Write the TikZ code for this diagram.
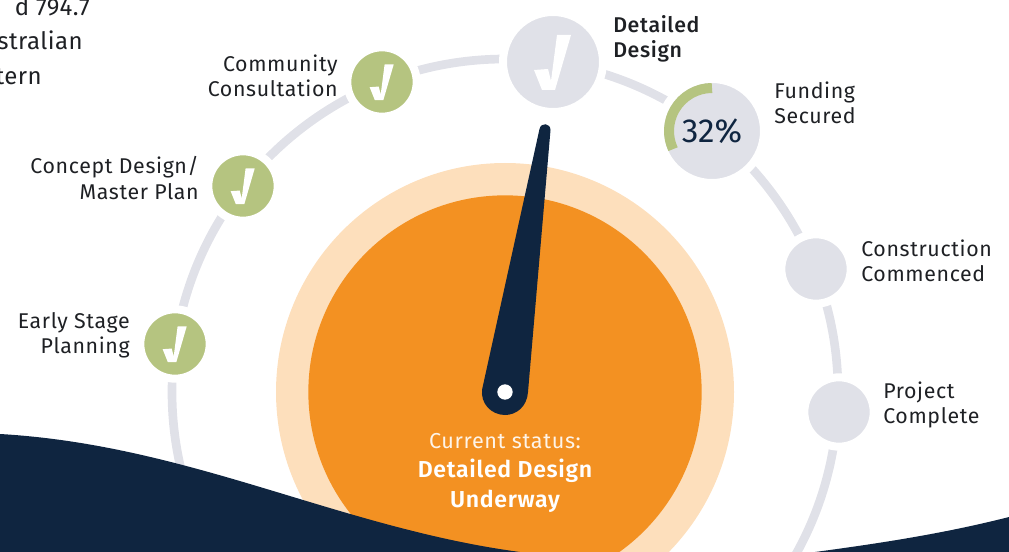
\documentclass[tikz,border=0pt]{standalone}
\usepackage{fontspec}
\setmainfont{Fira Sans}
\newfontfamily\labelfont{Fira Sans Medium}
\newfontfamily\strongfont{Fira Sans SemiBold}
\usepackage{xcolor}
\definecolor{navy}{HTML}{0F2540}
\definecolor{gaugeorange}{HTML}{F39122}
\definecolor{gaugepale}{HTML}{FDDFBC}
\definecolor{donegreen}{HTML}{B5C480}
\definecolor{ringgrey}{HTML}{E0E1E8}
\definecolor{labelgrey}{HTML}{1E2024}
\tikzset{
  stage/.style={circle,draw=white,line width=6,inner sep=0,minimum size=#1},
  stagelabel/.style={inner sep=0.75pt,text=labelgrey,font=\fontsize{16}{18.8}\selectfont\addfontfeature{LetterSpace=3}},
  introtext/.style={inner sep=0.75pt,text=labelgrey,font=\fontsize{18}{26}\selectfont\addfontfeature{LetterSpace=2}},
  pics/tick/.style={code={
    \fill [white,yscale=-1] (-19,8) -- (-5,7) -- (-2,19) -- (4,-27) -- (18,-27) -- (2,28) -- (-11,28) -- cycle;
  }}
}
\begin{document}
\begin{tikzpicture}[x=0.75pt,y=0.75pt,yscale=-1,xscale=1]
\useasboundingbox (0,0) rectangle (1009,552);
\clip (0,0) rectangle (1009,552);
% Intro text
\draw (91,15.5) node (introa) [anchor=base east,introtext] {d 794.7};
\draw (84,50) node (introb) [anchor=base east,introtext] {stralian};
\draw (43,85) node (introc) [anchor=base east,introtext] {tern};
%Ring
\draw [color=ringgrey,line width=6.5] (505,392) circle [radius=333];
%Gauge
\draw (505,392) node (gaugeouter) [circle,fill=gaugepale,inner sep=0,minimum size=343.5] {};
\draw (505,392) node (gaugeinner) [circle,fill=gaugeorange,inner sep=0,minimum size=295] {};
%Needle
\fill [navy] (482.2,389) -- (539.5,129) .. controls (541,122) and (550.5,123) .. (550.5,130) -- (528,392) .. controls (527,407) and (516,415) .. (505,415) .. controls (491,415) and (480,403) .. (482.2,389) -- cycle;
\draw (505,392) node (hub) [circle,fill=white,inner sep=0,minimum size=11.5] {};
%Stages
\draw (175,344) node (early) [stage=52,fill=donegreen] {};
\draw (243,186) node (concept) [stage=52,fill=donegreen] {};
\draw (382,82) node (community) [stage=52,fill=donegreen] {};
\draw (553,62) node (detailed) [stage=75,fill=ringgrey] {};
\draw (712,131) node (funding) [stage=78,fill=ringgrey] {};
\draw (816,269) node (construction) [stage=52,fill=ringgrey] {};
\draw (839,412) node (project) [stage=52,fill=ringgrey] {};
%Ticks
\pic [scale=0.65] at (early) {tick};
\pic [scale=0.65] at (concept) {tick};
\pic [scale=0.65] at (community) {tick};
\pic at (detailed) {tick};
%Progress arc
\draw [color=donegreen,line width=7.5] (712,88) arc [start angle=-90,delta angle=-115,radius=43];
\draw (712,131) node (percent) [text=navy,inner sep=0.75pt,font=\fontsize{25}{26}\selectfont] {32\%};
% Text Node
\draw (131,335.5) node (earlylabel) [anchor=east,align=right,stagelabel] {Early Stage\\Planning};
\draw (200,178) node (conceptlabel) [anchor=east,align=right,stagelabel] {Concept Design/\\Master Plan};
\draw (339,75.5) node (communitylabel) [anchor=east,align=right,stagelabel] {Community\\Consultation};
\draw (612,39) node (detailedlabel) [anchor=west,align=left,stagelabel] {\labelfont\addfontfeature{LetterSpace=3}Detailed\\\labelfont\addfontfeature{LetterSpace=3}Design};
\draw (773,103) node (fundinglabel) [anchor=west,align=left,stagelabel] {Funding\\Secured};
\draw (860,261) node (constructionlabel) [anchor=west,align=left,stagelabel] {Construction\\Commenced};
\draw (882,404.5) node (projectlabel) [anchor=west,align=left,stagelabel] {Project\\Complete};
\draw (505,441) node (statustext) [text=white!90!gaugeorange,inner sep=0.75pt,font=\fontsize{16.2}{18}\selectfont\addfontfeature{LetterSpace=3}] {Current status:};
\draw (505,485.5) node (statusname) [text=white,align=center,inner sep=0.75pt,font=\fontsize{17.3}{22.5}\selectfont\strongfont\addfontfeature{LetterSpace=3}] {Detailed Design\\Underway};
%Wave
\fill [navy] (0,434) .. controls (190,445) and (340,528) .. (520,552) .. controls (620,565) and (720,565) .. (815,552) .. controls (890,542) and (950,532) .. (1009,517) -- (1009,560) -- (0,560) -- cycle;
\end{tikzpicture}
\end{document}
